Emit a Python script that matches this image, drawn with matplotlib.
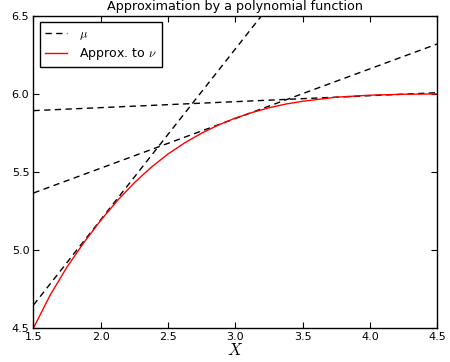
import matplotlib
matplotlib.use("Agg")
import matplotlib.pyplot as plt

# Red curve: polynomial approximation to nu
x_nu = [1.5, 1.625, 1.75, 1.875, 2.0, 2.125, 2.25, 2.375, 2.5, 2.625, 2.75, 2.875,
        3.0, 3.125, 3.25, 3.375, 3.5, 3.75, 4.0, 4.25, 4.5]
y_nu = [4.50, 4.712, 4.892, 5.048, 5.19, 5.318, 5.431, 5.530, 5.615, 5.687, 5.749, 5.801,
        5.845, 5.881, 5.911, 5.935, 5.953, 5.979, 5.992, 5.998, 6.00]

# Dashed tangent lines (mu): values at x=1.5 and x=4.5
mu_x = [1.5, 4.5]
mu_y_start = [4.647, 5.365, 5.893]
mu_y_end = [7.929, 6.320, 6.008]

xticks = [1.5, 2.0, 2.5, 3.0, 3.5, 4.0, 4.5]
yticks = [4.5, 5.0, 5.5, 6.0, 6.5]

plt.rcParams['font.family'] = ['DejaVu Sans']
plt.rcParams['mathtext.fontset'] = 'cm'

fig = plt.figure(figsize=(4.5, 3.62), dpi=100)
ax = fig.add_axes([0.0744, 0.094, 0.897, 0.862])

for i, (ys, ye) in enumerate(zip(mu_y_start, mu_y_end)):
    ax.plot(mu_x, [ys, ye], color='k', linestyle=(0, (4.5, 3.2)), lw=1.0,
            label=r'$\mu$' if i == 0 else None)
ax.plot(x_nu, y_nu, color='r', lw=1.0, label=r'Approx. to $\nu$')

ax.set_xlim(1.5, 4.5)
ax.set_ylim(4.5, 6.5)
ax.set_xticks(xticks)
ax.set_yticks(yticks)
ax.set_xticklabels([f"{t:.1f}" for t in xticks])
ax.set_yticklabels([f"{t:.1f}" for t in yticks])
ax.tick_params(direction='in', top=True, right=True, length=4, width=0.8,
               labelsize=8, pad=3)
for s in ax.spines.values():
    s.set_linewidth(1.0)

ax.set_xlabel(r'$X$', fontsize=12, labelpad=-1)
ax.set_title('Approximation by a polynomial function', fontsize=9.2, pad=4.3)

leg = ax.legend(loc='upper left', fontsize=9, fancybox=False, framealpha=1,
                edgecolor='k', borderaxespad=0.5, handlelength=1.75,
                handletextpad=1.0, borderpad=0.4, labelspacing=0.32)
leg.get_frame().set_linewidth(1.0)

fig.savefig('out.png', dpi=100)
